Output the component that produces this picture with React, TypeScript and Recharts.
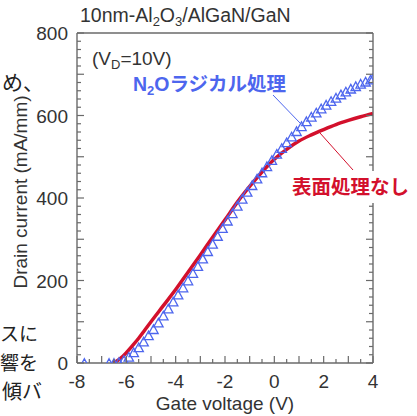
import React from "react";
import { ComposedChart, Line, Scatter, XAxis, YAxis } from "recharts";

// Red series: 表面処理なし (no surface treatment)
const redVg = [-6.55, -6.4, -6.2, -6.0, -5.75, -5.5, -5.25, -5.0, -4.5, -4.0, -3.5, -3.0, -2.5, -2.0, -1.5, -1.0, -0.5, 0, 0.5, 1.0, 1.5, 2.0, 2.5, 3.0, 3.5, 4.0];
const redId = [0, 4, 13, 25, 42, 60, 80, 100, 139, 178, 220, 262, 305, 347, 390, 428, 463, 494, 518, 538, 553, 566, 578, 588, 597, 605];

// Blue series: N2Oラジカル処理 (triangles)
const blueVg = [-7.7, -6.7, -6.5, -6.3, -6.1, -5.9, -5.7, -5.5, -5.3, -5.1, -4.9, -4.7, -4.5, -4.3, -4.1, -3.9, -3.7, -3.5, -3.3, -3.1, -2.9, -2.7, -2.5, -2.3, -2.1, -1.9, -1.7, -1.5, -1.3, -1.1, -0.9, -0.7, -0.5, -0.3, -0.1, 0.1, 0.3, 0.5, 0.7, 0.9, 1.1, 1.3, 1.5, 1.7, 1.9, 2.1, 2.3, 2.5, 2.7, 2.9, 3.1, 3.3, 3.5, 3.7, 3.9, 4.0];
const blueId = [0, 0, 0, 2, 7, 15, 26, 38, 52, 67, 82, 98, 115, 132, 149, 166, 183, 200, 218, 235, 253, 271, 289, 308, 327, 345, 363, 381, 398, 415, 431, 447, 462, 477, 492, 507, 521, 535, 549, 562, 574, 586, 597, 607, 617, 626, 635, 643, 651, 658, 665, 671, 677, 682, 687, 690];

const xTicks = [-8, -7.5, -7, -6.5, -6, -5.5, -5, -4.5, -4, -3.5, -3, -2.5, -2, -1.5, -1, -0.5, 0, 0.5, 1, 1.5, 2, 2.5, 3, 3.5, 4];
const xLabelTicks = [-8, -6, -4, -2, 0, 2, 4];
const yTicks = Array.from({ length: 41 }, (_, k) => k * 20);
const yLabelTicks = [0, 200, 400, 600, 800];

const title = "10nm-Al";
const xTitle = "Gate voltage (V)";
const yTitle = "Drain current (mA/mm)";
const blueName = "ラジカル処理";
const redName = "表面処理なし";

const redData = redVg.map((v, k) => ({ v, i: redId[k] }));
const blueData = blueVg.map((v, k) => ({ v, i: blueId[k] }));

const AX = "#6a6a6a";
const TXT = "#333333";
const FONT = "'Liberation Sans', Arial, sans-serif";
const BLUE = "#4d66ee";
const RED = "#d3102c";

const isMajorX = (v: number) => Math.abs(v - Math.round(v)) < 1e-6;
const isMajorY = (v: number) => v % 100 === 0;

const BottomTick = (p: any) => {
  const v = p.payload.value;
  const len = isMajorX(v) ? 7 : 4;
  return (
    <g>
      <line x1={p.x} x2={p.x} y1={p.y} y2={p.y - len} stroke={AX} strokeWidth={1.2} />
      {xLabelTicks.includes(v) && (
        <text x={p.x} y={p.y + 25} textAnchor="middle" fontSize={19} fill={TXT} fontFamily={FONT}>{String(v)}</text>
      )}
    </g>
  );
};
const TopTick = (p: any) => {
  const v = p.payload.value;
  const len = isMajorX(v) ? 7 : 4;
  return <line x1={p.x} x2={p.x} y1={p.y} y2={p.y + len} stroke={AX} strokeWidth={1.2} />;
};
const LeftTick = (p: any) => {
  const v = p.payload.value;
  const len = isMajorY(v) ? 7 : 4;
  return (
    <g>
      <line x1={p.x} x2={p.x + len} y1={p.y} y2={p.y} stroke={AX} strokeWidth={1.2} />
      {yLabelTicks.includes(v) && (
        <text x={p.x - 9} y={p.y + 7} textAnchor="end" fontSize={19} fill={TXT} fontFamily={FONT}>{String(v)}</text>
      )}
    </g>
  );
};
const RightTick = (p: any) => {
  const v = p.payload.value;
  const len = isMajorY(v) ? 7 : 4;
  return <line x1={p.x} x2={p.x - len} y1={p.y} y2={p.y} stroke={AX} strokeWidth={1.2} />;
};

const Tri = (p: any) => {
  const { cx, cy } = p;
  if (cx == null || cy == null) return <g />;
  const w = 4.7;
  const h = 4.3;
  return (
    <path
      d={`M${cx},${cy - h} L${cx + w},${cy + h} L${cx - w},${cy + h} Z`}
      fill="none"
      stroke={BLUE}
      strokeWidth={1.3}
    />
  );
};

export default function App() {
  return (
    <div style={{ position: "absolute", left: 0, top: 0, width: 417, height: 416, background: "#fff" }}>
      <ComposedChart width={417} height={416} margin={{ top: 32, right: 43, bottom: 23, left: 27 }}>
        <XAxis
          xAxisId="b"
          dataKey="v"
          type="number"
          domain={[-8, 4]}
          ticks={xTicks}
          interval={0}
          orientation="bottom"
          height={30}
          tickSize={0}
          tickMargin={0}
          tick={<BottomTick />}
          tickLine={false}
          axisLine={{ stroke: AX, strokeWidth: 1.4 }}
          allowDataOverflow
        />
        <XAxis
          xAxisId="t"
          type="number"
          domain={[-8, 4]}
          ticks={xTicks}
          interval={0}
          orientation="top"
          height={1}
          tickSize={0}
          tickMargin={0}
          tick={<TopTick />}
          tickLine={false}
          axisLine={{ stroke: AX, strokeWidth: 1.4 }}
          allowDataOverflow
        />
        <YAxis
          yAxisId="l"
          dataKey="i"
          type="number"
          domain={[0, 800]}
          ticks={yTicks}
          interval={0}
          orientation="left"
          width={50}
          tickSize={0}
          tickMargin={0}
          tick={<LeftTick />}
          tickLine={false}
          axisLine={{ stroke: AX, strokeWidth: 1.4 }}
          allowDataOverflow
        />
        <YAxis
          yAxisId="r"
          type="number"
          domain={[0, 800]}
          ticks={yTicks}
          interval={0}
          orientation="right"
          width={1}
          tickSize={0}
          tickMargin={0}
          tick={<RightTick />}
          tickLine={false}
          axisLine={{ stroke: AX, strokeWidth: 1.4 }}
          allowDataOverflow
        />
        <Scatter
          xAxisId="b"
          yAxisId="l"
          data={blueData}
          dataKey="i"
          shape={<Tri />}
          isAnimationActive={false}
        />
        <Line
          xAxisId="b"
          yAxisId="l"
          data={redData}
          dataKey="i"
          type="monotone"
          stroke={RED}
          strokeWidth={3.5}
          dot={false}
          activeDot={false}
          isAnimationActive={false}
        />
      </ComposedChart>
      <svg width={417} height={416} style={{ position: "absolute", left: 0, top: 0, pointerEvents: "none" }}>
        {/* background document text fragments */}
        <g fontFamily="'Noto Sans CJK JP'" fill="#222">
          <text x={2} y={90} fontSize={21}>め、</text>
          <text x={0} y={341} fontSize={19}>スに</text>
          <text x={0} y={370} fontSize={19}>響を</text>
          <text x={2} y={399} fontSize={20}>傾バ</text>
        </g>
        <text x={80} y={22} fontSize={19.5} fill={TXT} fontFamily={FONT}>
          {title}
          <tspan fontSize={13} dy={4}>2</tspan>
          <tspan dy={-4}>O</tspan>
          <tspan fontSize={13} dy={4}>3</tspan>
          <tspan dy={-4}>/AlGaN/GaN</tspan>
        </text>
        <text x={92} y={65} fontSize={19} fill={TXT} fontFamily={FONT}>
          (V<tspan fontSize={13} dy={4}>D</tspan>
          <tspan dy={-4}>=10V)</tspan>
        </text>
        <text x={225} y={410} textAnchor="middle" fontSize={19} fill={TXT} fontFamily={FONT}>{xTitle}</text>
        <text x={27} y={192} transform="rotate(-90 27 192)" textAnchor="middle" fontSize={19} fill={TXT} fontFamily={FONT}>{yTitle}</text>
        {/* N2O label */}
        <line x1={273} y1={95} x2={300} y2={123} stroke={BLUE} strokeWidth={1} />
        <text x={133} y={91} fontSize={19.5} fontWeight="bold" fill={BLUE} fontFamily="'Noto Sans CJK JP'">
          <tspan fontFamily={FONT}>N</tspan>
          <tspan fontFamily={FONT} fontSize={13} dy={4}>2</tspan>
          <tspan fontFamily={FONT} dy={-4}>O</tspan>
          <tspan>{blueName}</tspan>
        </text>
        {/* red label */}
        <line x1={320} y1={133} x2={353} y2={170} stroke={RED} strokeWidth={1} />
        <rect x={287} y={171} width={130} height={32} fill="#fff" />
        <text x={292} y={194} fontSize={19.5} fontWeight="bold" fill={RED} fontFamily="'Noto Sans CJK JP'">{redName}</text>
      </svg>
    </div>
  );
}
